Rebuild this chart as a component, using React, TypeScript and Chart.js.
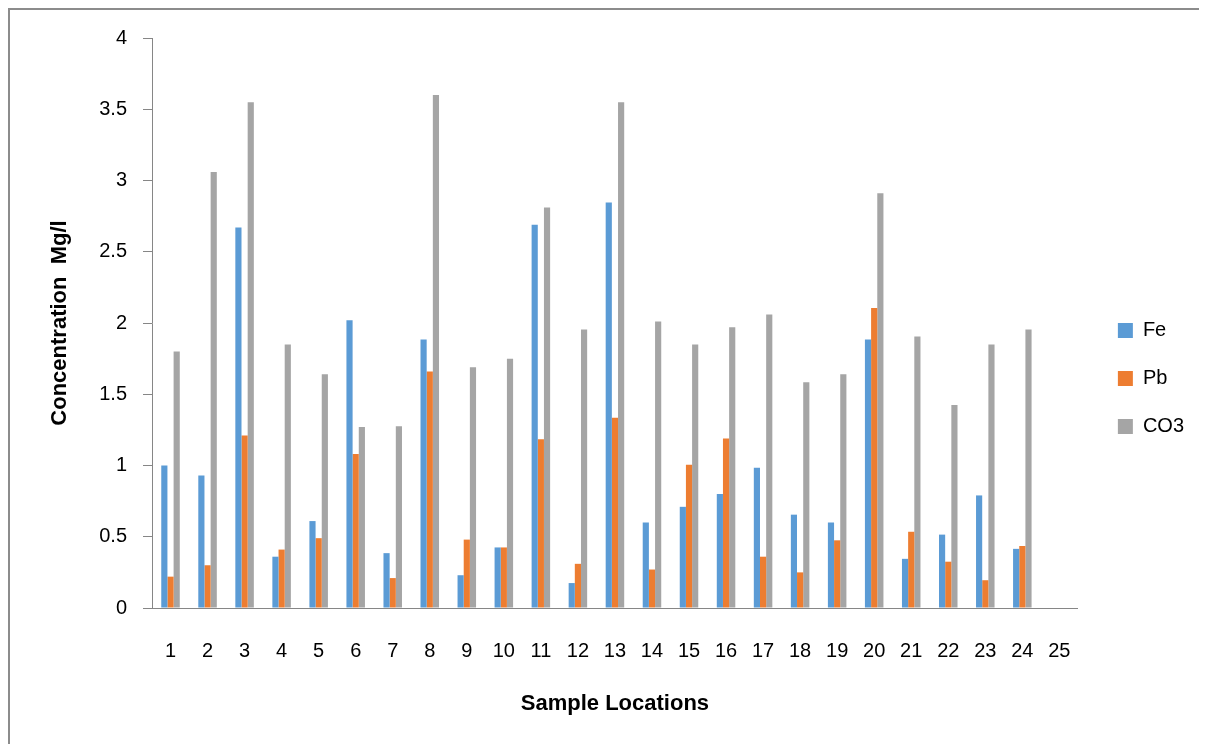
import React, { useEffect, useRef } from 'react';
import { Chart, registerables } from 'chart.js';

Chart.register(...registerables);

const categories = ['1', '2', '3', '4', '5', '6', '7', '8', '9', '10', '11', '12', '13', '14', '15', '16', '17', '18', '19', '20', '21', '22', '23', '24', '25'];
const feValues = [1.0, 0.93, 2.67, 0.36, 0.61, 2.02, 0.385, 1.885, 0.23, 0.425, 2.69, 0.175, 2.845, 0.6, 0.71, 0.8, 0.985, 0.655, 0.6, 1.885, 0.345, 0.515, 0.79, 0.415, null];
const pbValues = [0.22, 0.3, 1.21, 0.41, 0.49, 1.08, 0.21, 1.66, 0.48, 0.425, 1.185, 0.31, 1.335, 0.27, 1.005, 1.19, 0.36, 0.25, 0.475, 2.105, 0.535, 0.325, 0.195, 0.435, null];
const co3Values = [1.8, 3.06, 3.55, 1.85, 1.64, 1.27, 1.275, 3.6, 1.69, 1.75, 2.81, 1.955, 3.55, 2.01, 1.85, 1.97, 2.06, 1.585, 1.64, 2.91, 1.905, 1.425, 1.85, 1.955, null];
const seriesNames = ['Fe', 'Pb', 'CO3'];
const seriesColors = ['#5B9BD5', '#ED7D31', '#A5A5A5'];
const yTitle = 'Concentration  Mg/l';
const xTitle = 'Sample Locations';
const yMin = 0;
const yMax = 4;
const yStep = 0.5;

const FONT = '"Liberation Sans", Arial, sans-serif';
const AXIS_GRAY = '#868686';

export default function App() {
  const ref = useRef<HTMLCanvasElement>(null);

  useEffect(() => {
    document.documentElement.style.overflow = 'hidden';
    document.body.style.overflow = 'hidden';
    const seriesValues = [feValues, pbValues, co3Values];
    const chart = new Chart(ref.current as HTMLCanvasElement, {
      type: 'bar',
      data: {
        labels: categories,
        datasets: seriesNames.map((name, i) => ({
          label: name,
          data: seriesValues[i],
          backgroundColor: seriesColors[i],
          borderWidth: 0,
          categoryPercentage: 0.5,
          barPercentage: 1.0,
        })),
      },
      options: {
        responsive: false,
        animation: false,
        layout: { padding: { top: 28, right: 13, bottom: 17, left: 0 } },
        plugins: {
          legend: {
            position: 'right',
            labels: {
              boxWidth: 15,
              boxHeight: 15,
              padding: 28,
              color: '#000',
              font: { family: FONT, size: 20 },
            },
          },
          tooltip: { enabled: false },
        },
        scales: {
          x: {
            type: 'category',
            grid: { display: false, drawTicks: false },
            border: { display: true, color: AXIS_GRAY, width: 1 },
            ticks: {
              autoSkip: false,
              maxRotation: 0,
              padding: 31,
              color: '#000',
              font: { family: FONT, size: 20 },
            },
            title: {
              display: true,
              text: xTitle,
              color: '#000',
              font: { family: FONT, size: 22, weight: 'bold' },
              padding: { top: 0, bottom: 2 },
            },
            afterFit: (s: any) => {
              s.height = 111;
            },
          },
          y: {
            type: 'linear',
            min: yMin,
            max: yMax,
            ticks: {
              stepSize: yStep,
              padding: 16,
              color: '#000',
              font: { family: FONT, size: 20 },
              callback: (v: any) => String(Number(v)),
            },
            grid: {
              drawOnChartArea: false,
              drawTicks: true,
              tickLength: 9,
              color: AXIS_GRAY,
            },
            border: { display: true, color: AXIS_GRAY, width: 1 },
            title: {
              display: true,
              text: yTitle,
              color: '#000',
              font: { family: FONT, size: 22, weight: 'bold' },
              padding: { top: 37, bottom: 0 },
            },
            afterFit: (s: any) => {
              s.width = 142;
            },
          },
          spacer: {
            type: 'linear',
            position: 'right',
            display: true,
            grid: { display: false, drawTicks: false },
            border: { display: false },
            ticks: { display: false },
            afterFit: (s: any) => {
              s.width = 12;
            },
          },
        },
      } as any,
    });
    return () => chart.destroy();
  }, []);

  return (
    <div
      style={{
        width: 1215,
        height: 750,
        boxSizing: 'border-box',
        borderLeft: '2px solid #8c8c8c',
        borderTop: '2px solid #8c8c8c',
        background: '#fff',
      }}
    >
      <canvas ref={ref} width={1197} height={726} style={{ display: 'block' }} />
    </div>
  );
}
